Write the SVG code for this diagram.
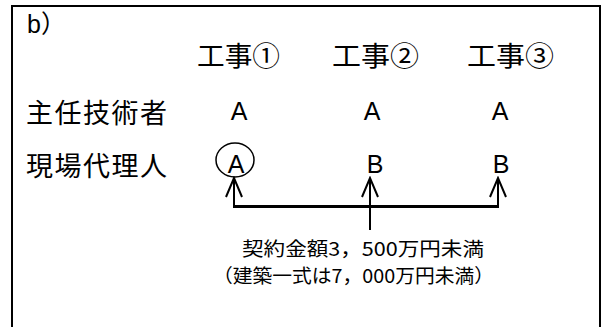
<svg xmlns="http://www.w3.org/2000/svg" width="604" height="327" viewBox="0 0 604 327">
<style>
.jp{font-family:"Noto Sans CJK JP","Liberation Sans",sans-serif;fill:#000}
.lt{font-family:"Liberation Sans","Noto Sans CJK JP",sans-serif;fill:#000;font-size:25px;text-anchor:middle}
.ln{stroke:#000;fill:none}
</style>
<defs>
<marker id="ah" viewBox="0 0 24 20" refX="22" refY="10" markerWidth="24" markerHeight="20" markerUnits="userSpaceOnUse" orient="auto">
<path d="M3,2 L22,10 L3,18" fill="none" stroke="#000" stroke-width="2"/>
</marker>
</defs>
<rect x="0" y="0" width="604" height="327" fill="#fff"/>
<g id="frame"><path class="ln" stroke-width="2" d="M12,330 V6 H600 V330"/></g>
<g id="title"><text x="27" y="33" font-size="25" font-family="Liberation Sans, sans-serif">b<tspan class="jp">）</tspan></text></g>
<g id="headers">
<text class="jp" x="197" y="66" font-size="27" textLength="83" lengthAdjust="spacingAndGlyphs">工事①</text>
<text class="jp" x="332" y="66" font-size="27" textLength="87" lengthAdjust="spacingAndGlyphs">工事②</text>
<text class="jp" x="467" y="66" font-size="27" textLength="87" lengthAdjust="spacingAndGlyphs">工事③</text>
</g>
<g id="row-labels">
<text class="jp" x="26" y="123" font-size="27" textLength="141" lengthAdjust="spacing">主任技術者</text>
<text class="jp" x="26" y="176" font-size="27" textLength="141" lengthAdjust="spacing">現場代理人</text>
</g>
<g id="chief">
<text class="lt" x="239" y="120">A</text>
<text class="lt" x="372" y="120">A</text>
<text class="lt" x="500" y="120">A</text>
</g>
<g id="agent">
<ellipse class="ln" cx="235" cy="160" rx="19" ry="17" stroke-width="1.5"/>
<text class="lt" x="236" y="173">A</text>
<text class="lt" x="375" y="173">B</text>
<text class="lt" x="501" y="173">B</text>
</g>
<g id="connectors">
<line class="ln" x1="234" y1="207" x2="234" y2="178" stroke-width="2" marker-end="url(#ah)"/>
<line class="ln" x1="370" y1="230" x2="370" y2="178" stroke-width="2" marker-end="url(#ah)"/>
<line class="ln" x1="498" y1="207" x2="498" y2="178" stroke-width="2" marker-end="url(#ah)"/>
<line class="ln" x1="233" y1="206.5" x2="499" y2="206.5" stroke-width="3"/>
</g>
<g id="note">
<text class="jp" x="242" y="256" font-size="19" textLength="242" lengthAdjust="spacingAndGlyphs">契約金額3，500万円未満</text>
<text class="jp" x="213" y="283" font-size="19" textLength="281" lengthAdjust="spacingAndGlyphs">（建築一式は7，000万円未満）</text>
</g>
</svg>
